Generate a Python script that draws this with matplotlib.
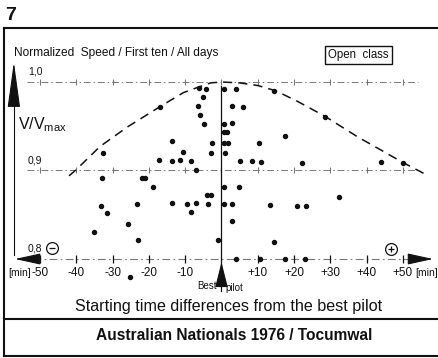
import numpy as np
import matplotlib.pyplot as plt

# starting time difference [min] vs normalized speed V/Vmax
dots_x = [-33.0, -32.6, -33.2, -31.5, -35.1, -25.8, -25.2, -23.2, -23.0, -22.0,
          -21.1, -18.8, -17.0, -17.2, -13.5, -13.5, -11.3, -10.7, -8.3, -6.9,
          -13.5, -9.6, -6.9, -8.5, -3.6, -3.9, -2.8, -1.1, -6.3, -4.4,
          -5.2, -6.6, -5.8, -4.9, -2.5, -3.0,
          0.6, 4.1, 3.0, 5.8, 0.6, 3.0, 0.6, 1.4, 0.6, 1.9,
          1.1, 5.0, 8.5, 10.2, 11.0, 14.6, 17.6, 22.3, 28.6, 44.0,
          50.0, 0.8, 4.7, 0.6, 3.0, 13.5, 20.9, 23.4, 32.5, 3.0,
          14.6, 3.9, 10.5, 17.4, 22.9]
dots_y = [0.892, 0.920, 0.860, 0.852, 0.830, 0.840, 0.780, 0.862, 0.821, 0.892,
          0.892, 0.881, 0.972, 0.912, 0.933, 0.911, 0.912, 0.921, 0.911, 0.901,
          0.863, 0.862, 0.863, 0.853, 0.862, 0.872, 0.872, 0.821, 0.993, 0.992,
          0.983, 0.973, 0.963, 0.952, 0.931, 0.920,
          0.992, 0.992, 0.973, 0.972, 0.952, 0.954, 0.943, 0.943, 0.931, 0.931,
          0.920, 0.911, 0.911, 0.931, 0.910, 0.990, 0.939, 0.909, 0.961, 0.910,
          0.909, 0.881, 0.881, 0.862, 0.862, 0.861, 0.860, 0.860, 0.870, 0.843,
          0.819, 0.800, 0.800, 0.800, 0.800]

# hand drawn envelope (dashed)
curve_x = [-42, -40, -33.5, -26, -17, -10.5, -6.5, -3, 0, 5, 10, 15, 21, 28.6, 37.5, 50, 57]
curve_y = [0.894, 0.901, 0.927, 0.949, 0.972, 0.988, 0.994, 0.999, 1.0, 0.999,
           0.996, 0.99, 0.978, 0.961, 0.938, 0.909, 0.894]

xticks = [-50, -40, -30, -20, -10, 10, 20, 30, 40, 50]
xtick_labels = ["-50", "-40", "-30", "-20", "-10", "+10", "+20", "+30", "+40", "+50"]
grid_levels = [1.0, 0.9]
ylabels = ["1,0", "0,9", "0,8"]

W, H = 438, 358
fig = plt.figure(figsize=(W / 100, H / 100), dpi=100)
plt.rcParams['font.family'] = ['Liberation Sans', 'DejaVu Sans']


def fx(px):
    return px / W


def fy(py):
    return 1 - py / H


ax = fig.add_axes([0.0499, 0.2271, 0.9116, 0.5933])
ax.set_xlim(-55, 55)
ax.set_ylim(0.78, 1.02)
ax.axis("off")

ink = "#111111"
grey = "#777777"

# grid lines with small tick marks
for lev in grid_levels:
    ax.plot([-53.5, 54], [lev, lev], color=grey, lw=0.7,
            linestyle=(0, (7, 3, 1.5, 3)), clip_on=False)
    ax.plot(xticks + [0], [lev] * (len(xticks) + 1), ls="none", marker="|",
            ms=5, mew=0.8, color=grey, clip_on=False)

# x axis at 0.8 with arrows at both ends
ax.plot([-52, 53], [0.8, 0.8], color=grey, lw=0.8,
        linestyle=(0, (7, 3, 1.5, 3)), clip_on=False)
ax.plot(xticks, [0.8] * len(xticks), ls="none", marker="|", ms=6, mew=0.9,
        color=ink, clip_on=False)
ax.annotate("", xy=(-56.9, 0.8), xytext=(-51.5, 0.8), annotation_clip=False,
            arrowprops=dict(arrowstyle="-|>,head_length=1.6,head_width=0.35",
                            color=ink, lw=0.8, shrinkA=0, shrinkB=0))
ax.annotate("", xy=(58.3, 0.8), xytext=(52.5, 0.8), annotation_clip=False,
            arrowprops=dict(arrowstyle="-|>,head_length=1.6,head_width=0.35",
                            color=ink, lw=0.8, shrinkA=0, shrinkB=0))

# y arrow on the left
ax.plot([-57.2, -57.2], [0.8045, 0.98], color=ink, lw=0.8, clip_on=False)
ax.annotate("", xy=(-57.2, 1.0226), xytext=(-57.2, 0.978), annotation_clip=False,
            arrowprops=dict(arrowstyle="-|>,head_length=2.9,head_width=0.4",
                            color=ink, lw=0.8, shrinkA=0, shrinkB=0))

# best pilot axis
ax.plot([0, 0], [0.9955, 0.7638], color=ink, lw=0.9, clip_on=False)
ax.annotate("", xy=(0, 0.7966), xytext=(0, 0.7770), annotation_clip=False,
            arrowprops=dict(arrowstyle="-|>,head_length=1.6,head_width=0.4",
                            color=ink, lw=0.8, shrinkA=0, shrinkB=0))

# envelope and data
ax.plot(curve_x, curve_y, color=ink, lw=1.1, linestyle=(0, (6, 4)), clip_on=False)
ax.plot(dots_x, dots_y, "o", color=ink, ms=2.9, clip_on=False)

# labels
for lab, lev in zip(ylabels, [1.0, 0.9, 0.8]):
    ax.text(-53.3, lev + 0.0113, lab, fontsize=7.5, ha="left", va="center", color=ink)
for t, lab in zip(xticks, xtick_labels):
    ax.text(t, 0.7842, lab, fontsize=8.5, ha="center", va="center", color=ink)
ax.text(-58.8, 0.7842, "[min]", fontsize=7.5, ha="left", va="center", color=ink)
ax.text(53.3, 0.7842, "[min]", fontsize=7.5, ha="left", va="center", color=ink)
ax.text(-1.2, 0.7695, "Best", fontsize=7, ha="right", va="center", color=ink)
ax.text(1.2, 0.7672, "pilot", fontsize=7, ha="left", va="center", color=ink)

# circled signs
ax.plot([-46.6], [0.8124], "o", ms=8.5, mfc="none", mec=ink, mew=0.9, clip_on=False)
ax.plot([-46.6], [0.8124], "_", ms=5, mew=0.9, color=ink, clip_on=False)
ax.plot([46.7], [0.8113], "o", ms=8.5, mfc="none", mec=ink, mew=0.9, clip_on=False)
ax.plot([46.7], [0.8113], "+", ms=5, mew=0.9, color=ink, clip_on=False)

fig.text(fx(18), fy(125), r"V/V$_{\mathregular{max}}$", fontsize=11.5, ha="left",
         va="center", color=ink)
fig.text(fx(14), fy(53), "Normalized  Speed / First ten / All days", fontsize=8.6,
         ha="left", va="center", color=ink)
fig.text(fx(358.5), fy(55), "Open  class", fontsize=8.3, ha="center", va="center",
         color=ink, bbox=dict(boxstyle="square,pad=0.3", fc="white", ec=ink, lw=1.0))
fig.text(fx(228.5), fy(307), "Starting time differences from the best pilot",
         fontsize=11.6, ha="center", va="center", color=ink)
fig.text(fx(234), fy(336), "Australian Nationals 1976 / Tocumwal", fontsize=11.2,
         ha="center", va="center", color=ink, fontweight="bold")
fig.text(fx(5), fy(15), "7", fontsize=14, ha="left", va="center", color=ink,
         fontweight="bold")

# frame
for x0, y0, x1, y1 in [(4, 28, 440, 28), (4, 28, 4, 356), (4, 319, 440, 319),
                       (4, 356, 440, 356)]:
    fig.add_artist(plt.Line2D([fx(x0), fx(x1)], [fy(y0), fy(y1)], color=ink, lw=1.5))

fig.savefig("out.png", dpi=100, facecolor="white")
